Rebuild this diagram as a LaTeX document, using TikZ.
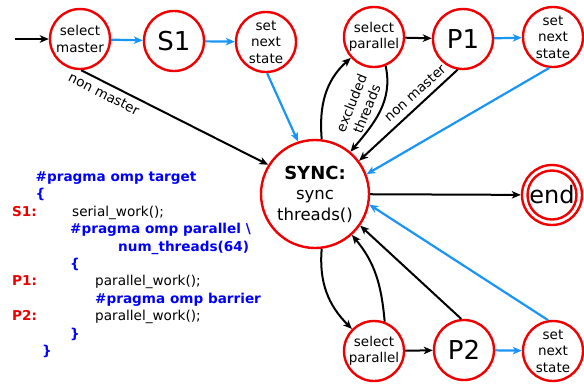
\documentclass[tikz,border=0pt]{standalone}
\usepackage{fontspec}
\setmainfont{DejaVu Sans}
\usetikzlibrary{arrows.meta}
\definecolor{statered}{RGB}{240,0,0}
\definecolor{flowblue}{RGB}{25,150,245}
\definecolor{codeblue}{RGB}{0,0,255}
\definecolor{codered}{RGB}{235,0,0}
\tikzset{
  state/.style={circle, draw=statered, line width=2.4pt, fill=white, minimum size=60pt,
    inner sep=0pt, align=center, font=\fontsize{13.5}{16.5}\selectfont},
  bigtxt/.style={font=\fontsize{26}{28}\selectfont},
  tip/.style={-{Stealth[length=9pt,width=7.5pt,inset=2.5pt]}},
  blk/.style={draw=black, line width=2pt, tip},
  blu/.style={draw=flowblue, line width=2.2pt, tip},
  code/.style={anchor=base west, inner sep=0pt, font=\fontsize{13.6}{16}\selectfont},
  pragma/.style={anchor=base west, inner sep=0pt, text=codeblue, font=\fontsize{13.6}{16}\selectfont\bfseries},
  tag/.style={anchor=base west, inner sep=0pt, text=codered, font=\fontsize{13.6}{16}\selectfont\bfseries},
  lbl/.style={inner sep=0pt, align=center, font=\fontsize{13.5}{16.5}\selectfont}
}
\begin{document}
\begin{tikzpicture}[x=1pt,y=1pt]
\useasboundingbox (0,0) rectangle (584,-384);

% states
\node[state] (sm) at (80,-39) {select\\master};
\node[state,bigtxt] (s1) at (174,-41) {S1};
\node[state] (sn1) at (266,-42) {set\\next\\state};
\node[state] (sp1) at (374,-37) {select\\parallel};
\node[state,bigtxt] (p1) at (463,-39) {P1};
\node[state] (sn2) at (553,-37) {set\\next\\state};
\node[state, minimum size=108pt, font=\fontsize{16.5}{20.5}\selectfont] (sync) at (315,-194)
  {{\fontsize{18}{20.5}\selectfont\bfseries SYNC:}\\sync\\threads()};
\node[state, font=\fontsize{24}{26}\selectfont] (end) at (552,-195) {end};
\draw[statered, line width=2.4pt] (end.center) circle (24.5);
\node[state] (sp2) at (374,-351) {select\\parallel};
\node[state,bigtxt] (p2) at (464,-350) {P2};
\node[state] (sn3) at (553,-351) {set\\next\\state};

\coordinate (start) at (15,-39);

% connectors
\draw[blk] (start) -- (sm);
\draw[blu] (sm) -- (s1);
\draw[blu] (s1) -- (sn1);
\draw[blu] (sn1.-88) -- (sync.108);
\draw[blk] (sm.-88) -- (sync.148);
\draw[blk] (sync.83) to[out=95,in=222] (sp1.222);
\draw[blk] (sp1.292) to[out=-78,in=50] (sync.50);
\draw[blk] (sp1) -- (p1);
\draw[blu] (p1) -- (sn2);
\draw[blk] (p1.-100) -- (sync.37);
\draw[blu] (sn2.-97) -- (sync.21);
\draw[blk] (sync) -- (end);
\draw[blk] (sync.-83) to[out=-95,in=135] (sp2.135);
\draw[blk] (sp2.70) to[out=95,in=-50] (sync.-48);
\draw[blk] (sp2) -- (p2);
\draw[blu] (p2) -- (sn3);
\draw[blk] (p2.95) -- (sync.-35);
\draw[blu] (sn3.99) -- (sync.-11);

% edge labels
\node[lbl, rotate=-27] (l1) at (104,-94) {non master};
\node[lbl, rotate=42] (l2) at (415,-93) {non master};
\node[lbl, rotate=68] (l3) at (359,-106) {excluded\\threads};

% code
\node[pragma] (c1) at (35.5,-181.5) {\#pragma omp target};
\node[pragma] (c2) at (35.5,-198.9) {\{};
\node[tag] (t1) at (12,-216.3) {S1:};
\node[code] (c3) at (72,-216.3) {serial\_work();};
\node[pragma] (c4) at (70,-233.7) {\#pragma omp parallel \textbackslash};
\node[pragma] (c5) at (118,-251.1) {num\_threads(64)};
\node[pragma] (c6) at (70,-268.5) {\{};
\node[tag] (t2) at (12,-285.9) {P1:};
\node[code] (c7) at (95,-285.9) {parallel\_work();};
\node[pragma] (c8) at (95,-303.3) {\#pragma omp barrier};
\node[tag] (t3) at (12,-320.7) {P2:};
\node[code] (c9) at (95,-320.7) {parallel\_work();};
\node[pragma] (c10) at (70,-338.1) {\}};
\node[pragma] (c11) at (42,-355.5) {\}};
\end{tikzpicture}
\end{document}
